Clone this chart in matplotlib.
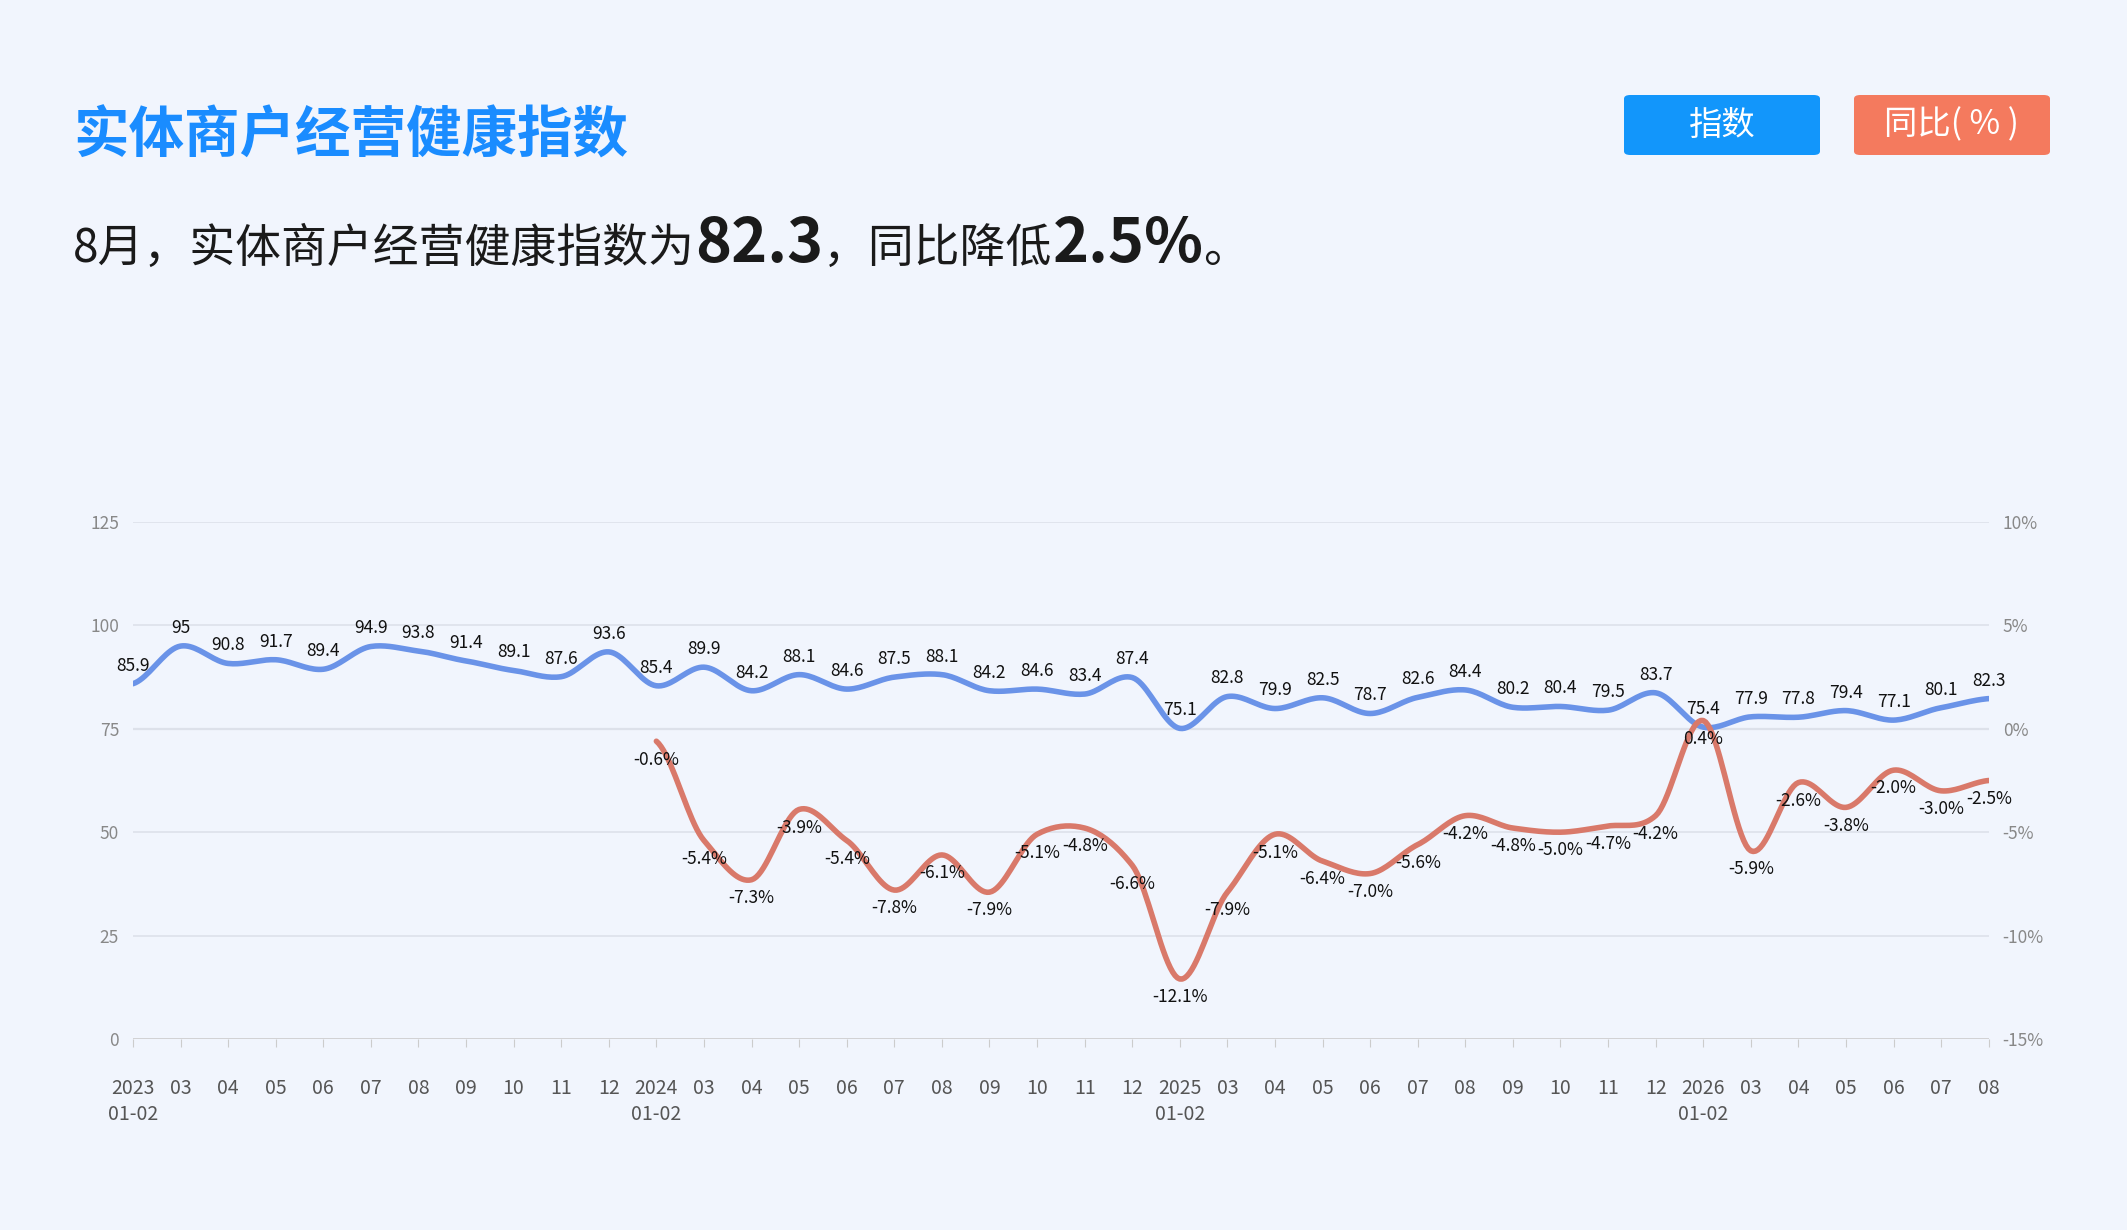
import numpy as np
import matplotlib
matplotlib.use("Agg")
import matplotlib.pyplot as plt
from matplotlib.patches import FancyBboxPatch

plt.rcParams['font.family'] = ['Noto Sans CJK SC', 'DejaVu Sans']

categories = ["2023\n01-02","03","04","05","06","07","08","09","10","11","12",
              "2024\n01-02","03","04","05","06","07","08","09","10","11","12",
              "2025\n01-02","03","04","05","06","07","08","09","10","11","12",
              "2026\n01-02","03","04","05","06","07","08"]
index_vals = [85.9,95,90.8,91.7,89.4,94.9,93.8,91.4,89.1,87.6,93.6,
              85.4,89.9,84.2,88.1,84.6,87.5,88.1,84.2,84.6,83.4,87.4,
              75.1,82.8,79.9,82.5,78.7,82.6,84.4,80.2,80.4,79.5,83.7,
              75.4,77.9,77.8,79.4,77.1,80.1,82.3]
yoy_vals = [None]*11 + [-0.6,-5.4,-7.3,-3.9,-5.4,-7.8,-6.1,-7.9,-5.1,-4.8,-6.6,
                        -12.1,-7.9,-5.1,-6.4,-7.0,-5.6,-4.2,-4.8,-5.0,-4.7,-4.2,
                        0.4,-5.9,-2.6,-3.8,-2.0,-3.0,-2.5]
left_ticks = [0, 25, 50, 75, 100, 125]
right_ticks = [-15, -10, -5, 0, 5, 10]

BG = "#f1f5fd"
BLUE = "#6a93e8"
RED = "#d9796a"

def smooth(x, y, n=20):
    x = np.asarray(x, float); y = np.asarray(y, float)
    xs, ys = [], []
    for i in range(len(x) - 1):
        p0 = y[max(i-1, 0)]; p1 = y[i]; p2 = y[i+1]; p3 = y[min(i+2, len(y)-1)]
        t = np.linspace(0, 1, n, endpoint=False)
        m1 = (p2 - p0) / 2 * 0.8; m2 = (p3 - p1) / 2 * 0.8
        h00 = 2*t**3-3*t**2+1; h10 = t**3-2*t**2+t; h01 = -2*t**3+3*t**2; h11 = t**3-t**2
        ys.append(h00*p1 + h10*m1 + h01*p2 + h11*m2)
        xs.append(x[i] + t*(x[i+1]-x[i]))
    xs.append([x[-1]]); ys.append([y[-1]])
    return np.concatenate(xs), np.concatenate(ys)

fig = plt.figure(figsize=(21.27, 12.30), dpi=100)
fig.patch.set_facecolor(BG)
ax = fig.add_axes([0.0625, 0.1553, 0.8725, 0.4203])
ax.set_facecolor(BG)
ax2 = ax.twinx()

x = np.arange(len(categories))
sx, sy = smooth(x, index_vals)
ax.plot(sx, sy, color=BLUE, lw=4, solid_capstyle='round', zorder=3)
for xi, v in zip(x, index_vals):
    ax.text(xi, v + 2.2, f"{v:g}", ha='center', va='bottom', fontsize=12.5, color='#111', zorder=5)

yx = [i for i, v in enumerate(yoy_vals) if v is not None]
yv = [v for v in yoy_vals if v is not None]
sx2, sy2 = smooth(yx, yv)
ax2.plot(sx2, sy2, color=RED, lw=4, solid_capstyle='round', zorder=3)
for xi, v in zip(yx, yv):
    ax2.text(xi, v - 0.45, f"{v:.1f}%", ha='center', va='top', fontsize=12.5, color='#111', zorder=5)

ax.set_ylim(0, 125); ax.set_yticks(left_ticks)
ax2.set_ylim(-15, 10); ax2.set_yticks(right_ticks)
ax2.set_yticklabels([f"{t}%" for t in right_ticks])
ax.set_xlim(0, len(categories)-1)
ax.set_xticks(x); ax.set_xticklabels(categories, fontsize=14, color='#555', linespacing=1.3)
ax.tick_params(axis='x', length=6, color='#ccc', pad=22)
ax.tick_params(axis='y', length=0, labelsize=12.5, labelcolor='#888', pad=10)
ax2.tick_params(axis='y', length=0, labelsize=12.5, labelcolor='#888', pad=10)
for t in left_ticks:
    ax.axhline(t, color='#dde1ea' if t else '#cccccc', lw=1.2 if t != 75 else 1.6, zorder=1)
for a in (ax, ax2):
    for s in a.spines.values():
        s.set_visible(False)

fig.text(0.0344, 0.889, "实体商户经营健康指数", fontsize=40, color="#1a8cff",
         fontweight='bold', va='center')

# subtitle with mixed sizes
parts = [("8月，实体商户经营健康指数为", 33, 'medium'), ("82.3", 44, 'bold'),
         ("，同比降低", 33, 'medium'), ("2.5%", 44, 'bold'), ("。", 33, 'medium')]
fig.canvas.draw()
r = fig.canvas.get_renderer()
xpos = 0.0344
for s, fs, fw in parts:
    t = fig.text(xpos, 0.787, s, fontsize=fs, color='#1a1a1a', va='baseline', fontweight=fw)
    bb = t.get_window_extent(renderer=r)
    xpos += bb.width / fig.bbox.width

# legend buttons
for (x0, label, col) in [(1624, "指数", "#1296fb"), (1854, "同比( % )", "#f47a5e")]:
    w, h, y0 = 196, 60, 1230 - 155
    fig.patches.append(FancyBboxPatch((x0/2127, y0/1230), w/2127, h/1230,
                                      boxstyle="round,pad=0,rounding_size=0.003",
                                      transform=fig.transFigure, facecolor=col, edgecolor='none'))
    fig.text((x0 + w/2)/2127, (y0 + h/2)/1230, label, fontsize=24, color='white', ha='center', va='center')

fig.savefig("out.png", dpi=100, facecolor=BG)
